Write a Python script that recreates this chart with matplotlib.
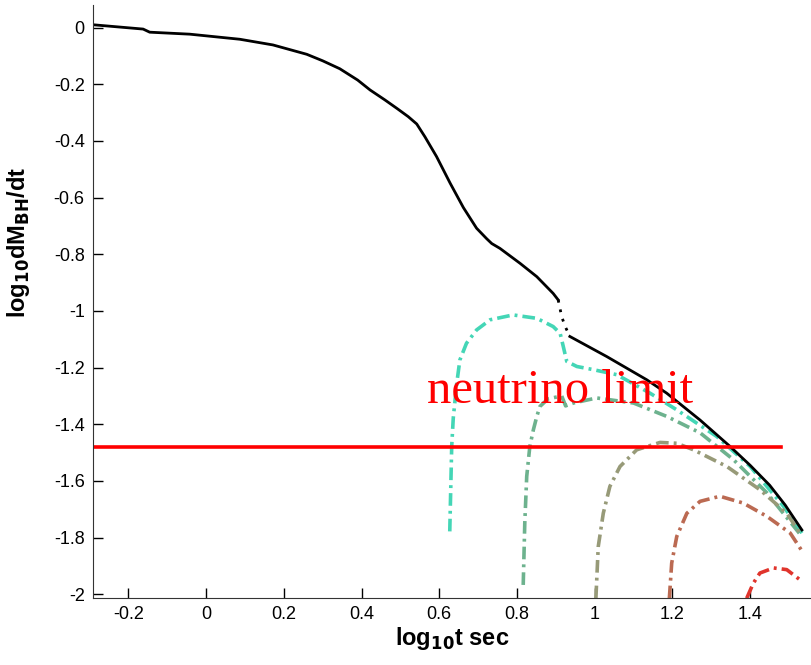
import matplotlib
matplotlib.use("Agg")
import matplotlib.pyplot as plt

plt.rcParams['axes.unicode_minus'] = False
plt.rcParams['font.family'] = ['Liberation Sans', 'DejaVu Sans']
plt.rcParams['mathtext.default'] = 'bf'

# accreted mass rate, black curve (log10 t, log10 dM/dt)
bh_t = [-0.289, -0.162, -0.145, -0.042, 0.087, 0.172, 0.259, 0.30, 0.344, 0.39, 0.422,
        0.46, 0.491, 0.52, 0.542, 0.563, 0.593, 0.628, 0.662, 0.696, 0.722, 0.735,
        0.756, 0.808, 0.851, 0.893, 0.906,
        0.915, 0.924, 0.936, 1.031, 1.134, 1.185, 1.271, 1.348, 1.40, 1.45, 1.49, 1.533]
bh_m = [0.010, -0.005, -0.016, -0.023, -0.041, -0.061, -0.094, -0.117, -0.145, -0.185, -0.22,
        -0.255, -0.285, -0.314, -0.340, -0.385, -0.455, -0.549, -0.635, -0.708, -0.745, -0.762,
        -0.779, -0.832, -0.879, -0.938, -0.961,
        -1.02, -1.055, -1.09, -1.161, -1.243, -1.29, -1.385, -1.478, -1.545, -1.615, -1.685, -1.773]

# dash-dot curves
c1_t = [0.627, 0.632, 0.636, 0.645, 0.653, 0.670, 0.696, 0.731, 0.79, 0.851, 0.893, 0.911,
        0.919, 0.928, 0.954, 0.996, 1.057, 1.142, 1.211, 1.314, 1.40, 1.486, 1.533]
c1_m = [-1.778, -1.478, -1.378, -1.255, -1.173, -1.114, -1.067, -1.031, -1.014, -1.026, -1.055, -1.079,
        -1.125, -1.178, -1.196, -1.207, -1.225, -1.29, -1.349, -1.443, -1.549, -1.69, -1.784]

c2_t = [0.816, 0.820, 0.825, 0.833, 0.842, 0.851, 0.859, 0.88, 0.915, 0.925, 0.945, 1.005,
        1.10, 1.185, 1.271, 1.357, 1.443, 1.533]
c2_m = [-1.967, -1.749, -1.584, -1.478, -1.42, -1.372, -1.337, -1.31, -1.30, -1.335, -1.325, -1.307,
        -1.325, -1.372, -1.43, -1.525, -1.642, -1.796]

c3_t = [1.003, 1.009, 1.022, 1.039, 1.065, 1.108, 1.168, 1.211, 1.254, 1.34, 1.425, 1.494, 1.528]
c3_m = [-2.014, -1.832, -1.714, -1.619, -1.549, -1.49, -1.464, -1.467, -1.49, -1.549, -1.631,
        -1.714, -1.784]

c4_t = [1.192, 1.198, 1.211, 1.237, 1.271, 1.322, 1.382, 1.443, 1.503, 1.537]
c4_m = [-2.014, -1.89, -1.796, -1.714, -1.672, -1.654, -1.678, -1.725, -1.784, -1.855]

c5_t = [1.391, 1.408, 1.425, 1.46, 1.494, 1.533]
c5_m = [-2.014, -1.961, -1.925, -1.907, -1.913, -1.954]

curves = [(c1_t, c1_m, '#44d6b6'), (c2_t, c2_m, '#6db28e'), (c3_t, c3_m, '#979a78'),
          (c4_t, c4_m, '#bb6a52'), (c5_t, c5_m, '#e0342c')]

nu_limit = -1.48
nu_t = [-0.291, 1.478]

xticks = [-0.2, 0, 0.2, 0.4, 0.6, 0.8, 1, 1.2, 1.4]
yticks = [0, -0.2, -0.4, -0.6, -0.8, -1, -1.2, -1.4, -1.6, -1.8, -2]

fig = plt.figure(figsize=(8.12, 6.65), dpi=100)
ax = fig.add_axes([0.1145, 0.1008, 0.8855, 0.8917])

for t, m, col in curves:
    ax.plot(t, m, color=col, lw=2.6, dashes=(3.5, 1.4, 0.8, 1.4))

# black curve: smooth parts solid, steep jump dotted
ax.plot(bh_t[:27], bh_m[:27], color='black', lw=2.0)
ax.plot(bh_t[26:30], bh_m[26:30], color='black', lw=2.0, ls=(0, (1, 2.5)))
ax.plot(bh_t[29:], bh_m[29:], color='black', lw=2.0)

ax.plot(nu_t, [nu_limit, nu_limit], color='red', lw=2.6)
ax.text(0.568, -1.324, 'neutrino limit', color='red', fontsize=35,
        family='Liberation Serif')

ax.set_xlim(-0.291, 1.559)
ax.set_ylim(-2.013, 0.080)
ax.set_xticks(xticks)
ax.set_xticklabels(['%g' % v for v in xticks])
ax.set_yticks(yticks)
ax.set_yticklabels(['%g' % v for v in yticks])
ax.tick_params(direction='in', length=7, width=1, labelsize=13, pad=6)
ax.spines['top'].set_visible(False)
ax.spines['right'].set_visible(False)
ax.spines['left'].set_color('#333333')
ax.spines['bottom'].set_color('#333333')

ax.set_xlabel('log$_{10}$t sec', fontsize=17, fontweight='bold')
ax.set_ylabel('log$_{10}$dM$_{BH}$/dt', fontsize=17, fontweight='bold')
ax.yaxis.set_label_coords(-0.085, 0.6)
ax.xaxis.set_label_coords(0.5, -0.045)

fig.savefig('out.png', dpi=100)
